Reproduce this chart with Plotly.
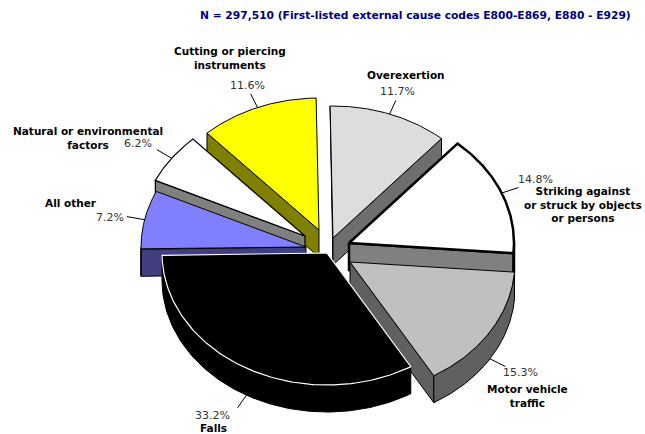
import numpy as np
import plotly.graph_objects as go

# Data, clockwise from 12 o'clock
categories = ["Overexertion", "Striking against<br>or struck by objects<br>or persons",
              "Motor vehicle<br>traffic", "Falls", "All other",
              "Natural or environmental<br>factors", "Cutting or piercing<br>instruments"]
percents = [11.7, 14.8, 15.3, 33.2, 7.2, 6.2, 11.6]

# Styling of each slice, same order
top_colors = ["#DDDDDD", "#FFFFFF", "#C0C0C0", "#000000", "#8080FF", "#FFFFFF", "#FFFF00"]
wall_colors = ["#6E6E6E", "#808080", "#606060", "#000000", "#404080", "#808080", "#808000"]
top_lines = ["#000000", "#000000", "#000000", "#FFFFFF", "#000000", "#000000", "#000000"]
line_widths = [1, 2.5, 1, 1.2, 1, 1.2, 1]
# Exploded position of each slice's apex, in canvas pixels
apex_x = [333, 349, 350, 327, 306, 305, 319]
apex_y = [238, 243, 262, 253, 247, 236, 230]
paint_order = [6, 5, 4, 0, 1, 2, 3]
# Text placement, canvas pixels
name_pos = [(406, 75), (583, 204), (527, 396), (213, 428), (71, 203), (88, 138), (230, 58)]
pct_pos = [(397, 91), (535, 179), (520, 372), (212, 415), (110, 217), (138, 143), (247, 85)]

RX, RY, DEPTH = 165, 132, 27
START_ANGLE = -1.0
LEADER = 0.11

edges = START_ANGLE + np.concatenate([[0], np.cumsum(percents)]) * 3.6

fig = go.Figure()


def face(xs, ys, fill, color, width):
    fig.add_trace(go.Scatter(x=xs, y=ys, mode="lines", fill="toself", fillcolor=fill,
                             line=dict(color=color, width=width), hoverinfo="skip",
                             showlegend=False))


for i in paint_order:
    t0, t1 = edges[i], edges[i + 1]
    t = np.radians(np.linspace(t0, t1, 120))
    ax, ay = apex_x[i], apex_y[i]
    ex, ey = ax + RX * np.sin(t), ay - RY * np.cos(t)
    lw = line_widths[i] if i != 3 else 1
    # radial walls, only those facing the viewer
    if np.sin(np.radians(t0)) < 0:
        face([ax, ex[0], ex[0], ax, ax], [ay, ey[0], ey[0] + DEPTH, ay + DEPTH, ay],
             wall_colors[i], "#000000", lw)
    if np.sin(np.radians(t1)) > 0:
        face([ax, ex[-1], ex[-1], ax, ax], [ay, ey[-1], ey[-1] + DEPTH, ay + DEPTH, ay],
             wall_colors[i], "#000000", lw)
    # outer wall, front part only
    front = np.cos(t) < 0
    if front.sum() > 1:
        fx, fy = ex[front], ey[front]
        face(list(fx) + list(fx[::-1]) + [fx[0]], list(fy) + list(fy[::-1] + DEPTH) + [fy[0]],
             wall_colors[i], "#000000", lw)
    # top
    face([ax] + list(ex) + [ax], [ay] + list(ey) + [ay], top_colors[i], top_lines[i], line_widths[i])

# Leader lines
for i in range(len(percents)):
    m = np.radians((edges[i] + edges[i + 1]) / 2)
    dx, dy = RX * np.sin(m), -RY * np.cos(m)
    bx, by = apex_x[i] + dx, apex_y[i] + dy + (DEPTH if np.cos(m) < 0 else 0)
    fig.add_trace(go.Scatter(x=[bx, bx + LEADER * dx], y=[by, by + LEADER * dy], mode="lines",
                             line=dict(color="#000000", width=1), hoverinfo="skip", showlegend=False))

FONT = "DejaVu Sans"
for i, c in enumerate(categories):
    fig.add_annotation(x=name_pos[i][0], y=name_pos[i][1], text="<b>" + c + "</b>", showarrow=False,
                       font=dict(family=FONT, size=10.5, color="#000000"), align="center",
                       xanchor="center", yanchor="middle", borderpad=0)
    fig.add_annotation(x=pct_pos[i][0], y=pct_pos[i][1], text=f"{percents[i]}%", showarrow=False,
                       font=dict(family=FONT, size=11, color="#333333"), xanchor="center", yanchor="middle",
                       borderpad=0)

fig.add_annotation(x=415, y=15, text="<b>N = 297,510 (First-listed external cause codes E800-E869, E880 - E929)</b>",
                   showarrow=False, font=dict(family=FONT, size=10.7, color="#000080"),
                   xanchor="center", yanchor="middle")

fig.update_layout(width=645, height=434, margin=dict(l=0, r=0, t=0, b=0),
                  paper_bgcolor="#FFFFFF", plot_bgcolor="#FFFFFF",
                  xaxis=dict(range=[0, 645], visible=False, fixedrange=True),
                  yaxis=dict(range=[434, 0], visible=False, fixedrange=True))
fig.write_html("out.html", config={"displayModeBar": False}, post_script="document.body.style.margin='0';")
